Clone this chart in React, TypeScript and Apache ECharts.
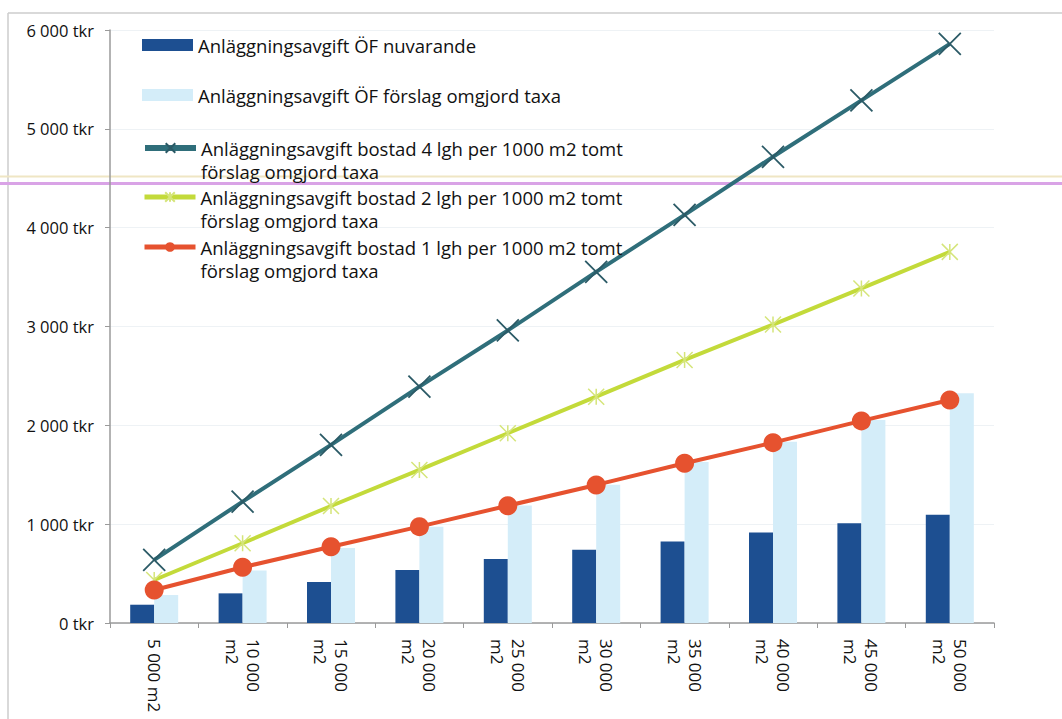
import React, { useEffect, useRef } from 'react';
import * as echarts from 'echarts';

const categories = ['5 000 m2', '10 000 m2', '15 000 m2', '20 000 m2', '25 000 m2', '30 000 m2', '35 000 m2', '40 000 m2', '45 000 m2', '50 000 m2'];
const seriesNames = [
  'Anläggningsavgift ÖF nuvarande',
  'Anläggningsavgift ÖF förslag omgjord taxa',
  'Anläggningsavgift bostad 4 lgh per 1000 m2 tomt förslag omgjord taxa',
  'Anläggningsavgift bostad 2 lgh per 1000 m2 tomt förslag omgjord taxa',
  'Anläggningsavgift bostad 1 lgh per 1000 m2 tomt förslag omgjord taxa',
];
const nuvarande = [185, 300, 415, 535, 648, 740, 825, 915, 1010, 1095];
const forslag = [283, 530, 760, 975, 1190, 1400, 1630, 1835, 2055, 2325];
const bostad4 = [638, 1228, 1802, 2392, 2960, 3553, 4130, 4717, 5288, 5860];
const bostad2 = [435, 807, 1184, 1549, 1920, 2290, 2662, 3020, 3385, 3755];
const bostad1 = [334, 564, 772, 975, 1187, 1397, 1616, 1825, 2045, 2257];

const FONT = 'Open Sans';
const legendTops = [33.5, 83.5, 113.5, 162.5, 212.5];

export default function App() {
  const ref = useRef<HTMLDivElement>(null);
  useEffect(() => {
    const chart = echarts.init(ref.current!, null, { renderer: 'svg' });
    const legendText = (name: string) =>
      name.indexOf(' förslag omgjord') > 0 && name.indexOf('bostad') > 0
        ? '\n' + name.replace(' förslag omgjord', '\nförslag omgjord')
        : name;
    const legends = seriesNames.map((n, i) => {
      const l: any = {
        data: [n],
        left: 142,
        top: legendTops[i],
        padding: 0,
        orient: 'vertical',
        itemWidth: 51,
        itemHeight: 12,
        formatter: legendText,
        textStyle: { fontFamily: FONT, fontSize: 18.5, color: '#111', lineHeight: 23 },
        selectedMode: false,
      };
      if (i < 2) l.icon = 'rect';
      else l.lineStyle = { width: i === 2 ? 6 : 5 };
      return l;
    });
    chart.setOption({
      animation: false,
      backgroundColor: '#ffffff',
      textStyle: { fontFamily: FONT },
      legend: legends,
      grid: { left: 110, right: 68, top: 30, bottom: 96, containLabel: false },
      xAxis: {
        type: 'category',
        data: categories,
        axisLine: { show: true, lineStyle: { color: '#9a9a9a', width: 1.5 } },
        axisTick: { show: true, length: 5, lineStyle: { color: '#9a9a9a' } },
        axisLabel: {
          interval: 0,
          rotate: -90,
          margin: 16,
          fontFamily: FONT,
          fontSize: 17,
          lineHeight: 21,
          color: '#111',
          formatter: (v: string) => (v.length > 8 ? v.replace(' m2', '\nm2') : v),
        },
      },
      yAxis: {
        type: 'value',
        min: 0,
        max: 6000,
        interval: 1000,
        axisLine: { show: true, lineStyle: { color: '#9a9a9a', width: 1.5 } },
        axisTick: { show: true, length: 5, lineStyle: { color: '#9a9a9a' } },
        splitLine: { show: true, lineStyle: { color: '#eef2f5', width: 1 } },
        axisLabel: {
          margin: 16,
          fontFamily: FONT,
          fontSize: 16.5,
          color: '#111',
          formatter: (v: number) => (v >= 1000 ? Math.floor(v / 1000) + ' 000 tkr' : v + ' tkr'),
        },
      },
      graphic: [
        { type: 'line', z: 0, silent: true, shape: { x1: 8, y1: 13, x2: 1062, y2: 13 }, style: { stroke: '#cccccc', lineWidth: 1.5 } },
        { type: 'line', z: 0, silent: true, shape: { x1: 8, y1: 13, x2: 8, y2: 719 }, style: { stroke: '#cccccc', lineWidth: 1.5 } },
        { type: 'line', z: 0, silent: true, shape: { x1: 0, y1: 176.5, x2: 1062, y2: 176.5 }, style: { stroke: '#efe6c4', lineWidth: 2 } },
        { type: 'line', z: 0, silent: true, shape: { x1: 0, y1: 183.5, x2: 1062, y2: 183.5 }, style: { stroke: '#d9a3e6', lineWidth: 3 } },
      ],
      series: [
        {
          name: seriesNames[0],
          type: 'bar',
          data: nuvarande,
          barWidth: 24,
          barGap: '0%',
          itemStyle: { color: '#1d4f91' },
        },
        {
          name: seriesNames[1],
          type: 'bar',
          data: forslag,
          barWidth: 24,
          barGap: '0%',
          itemStyle: { color: '#d4edf9' },
        },
        {
          name: seriesNames[2],
          type: 'line',
          data: bostad4,
          lineStyle: { color: '#2f6e7a', width: 4 },
          symbol: 'path://M0,0L10,10M10,0L0,10',
          symbolSize: 22,
          itemStyle: { color: 'none', borderColor: '#2b5a66', borderWidth: 1.8 },
        },
        {
          name: seriesNames[3],
          type: 'line',
          data: bostad2,
          lineStyle: { color: '#c3da3a', width: 4 },
          symbol: 'path://M0,0L10,10M10,0L0,10M5,0L5,10',
          symbolSize: 16,
          itemStyle: { color: 'none', borderColor: '#d5e57a', borderWidth: 1.5 },
        },
        {
          name: seriesNames[4],
          type: 'line',
          data: bostad1,
          lineStyle: { color: '#e6522f', width: 4 },
          symbol: 'circle',
          symbolSize: 19,
          itemStyle: { color: '#e6522f', borderColor: '#e6522f', borderWidth: 0 },
        },
      ],
    });
    return () => chart.dispose();
  }, []);
  return <div ref={ref} style={{ position: 'fixed', left: 0, top: 0, width: 1062, height: 719 }} />;
}
